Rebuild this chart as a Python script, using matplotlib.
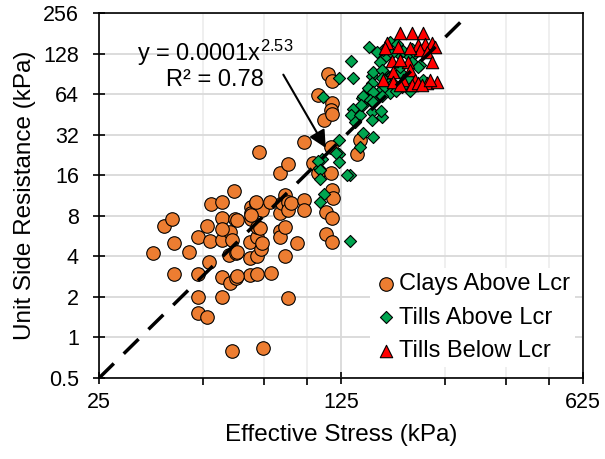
import matplotlib
matplotlib.use("Agg")
import matplotlib.pyplot as plt
from matplotlib.ticker import FixedLocator, NullFormatter
import numpy as np

plt.rcParams['font.family'] = ['Liberation Sans', 'DejaVu Sans']
plt.rcParams['mathtext.fontset'] = 'custom'
plt.rcParams['mathtext.rm'] = 'Liberation Sans'
plt.rcParams['mathtext.it'] = 'Liberation Sans'

# Clays above Lcr (effective stress kPa, unit side resistance kPa)
clay_x = [35.8, 38.4, 40.5, 41.1, 41.1, 45.4, 48.3, 48.3, 48.3, 48.3,
          51.4, 51.4, 52.3, 52.0, 52.7, 56.5, 56.5, 56.5, 56.8, 56.8,
          59.8, 56.8, 59.8, 62.0, 60.6, 61.3, 61.6, 59.5, 62.0, 60.6,
          68.6, 68.6, 68.6, 68.3, 68.3, 68.3, 71.6, 71.6, 71.6, 71.2,
          71.6, 72.6, 73.2, 73.9, 73.9, 74.3, 78.0, 78.3, 83.4, 83.4,
          83.4, 83.4, 84.4, 86.2, 86.2, 86.2, 87.6, 88.0, 88.0, 88.0,
          89.5, 93.4, 98.0, 98.0, 97.5, 104, 107, 113.3, 117.4, 113.3,
          117.4, 116.7, 117.4, 118.8, 107.4, 115, 117.4, 117.4, 116.7, 111.7,
          139, 142, 62.4, 73, 62.4, 70.8, 68.9, 62.4, 117.4, 117]
clay_y = [4.2, 6.75, 7.6, 5.0, 2.94, 4.3, 5.6, 2.94, 2.0, 1.52,
          1.42, 6.75, 5.2, 3.6, 9.75, 10.2, 7.7, 5.3, 2.8, 2.0,
          6.1, 6.4, 2.55, 2.77, 5.3, 12.2, 7.6, 4.1, 4.2, 0.79,
          9.3, 8.4, 7.6, 5.1, 3.87, 2.89, 4.0, 5.58, 6.6, 10.0,
          2.94, 23.9, 4.5, 8.8, 5.0, 0.84, 10.2, 3.0, 16.6, 8.4,
          6.2, 5.6, 10.0, 11.5, 6.6, 4.0, 19.5, 10.2, 8.9, 1.97,
          10.0, 5.0, 10.4, 8.9, 28.4, 19.6, 16.6, 8.5, 7.7, 5.9,
          5.1, 16.6, 12.4, 10.9, 63, 90, 80, 55, 49, 41,
          23, 29.4, 4.3, 6.5, 7.4, 10.2, 8.1, 2.85, 45.5, 25.8]

# Tills above Lcr
till_a_x = [151, 134, 123, 135, 154, 165, 111, 151, 144, 155,
            135, 145, 134, 142, 154, 137, 164, 154, 145, 155,
            142, 123, 123, 110, 108, 123, 133, 162, 167, 173,
            169, 184, 196, 201, 165, 173, 182, 185, 195, 211,
            216, 167, 177, 159, 162, 155, 164, 154, 164, 150,
            155, 145, 152, 143, 155, 164, 163, 176, 189, 201,
            205, 175, 185, 208, 187, 198, 180, 107, 109, 109,
            112, 109, 121, 130, 133]
till_a_y = [143, 112, 84, 84, 87, 95, 61, 70, 60, 58,
            50, 53, 45, 45, 47, 40, 43, 41, 33, 31,
            26, 29, 23, 21, 18, 20, 16, 68, 72, 65,
            122, 126, 122, 110, 137, 155, 150, 93, 84, 105,
            82, 82, 78, 132, 110, 93, 96, 77, 84, 71,
            66, 62, 58, 53, 56, 62, 48, 130, 133, 139,
            130, 89, 102, 102, 72, 68, 68, 20.5, 17.5, 15,
            11.7, 10.1, 23.5, 16, 5.2]

# Tills below Lcr
till_b_x = [185, 200, 216, 170, 183, 167, 209, 219, 229, 234,
            211, 222, 198, 175, 195, 229, 185, 177, 198, 165,
            177, 189, 204, 200, 209, 222, 237, 185, 214, 226]
till_b_y = [182, 182, 182, 153, 143, 141, 148, 150, 153, 143,
            136, 131, 141, 112, 110, 110, 115, 93, 97, 82,
            79, 82, 82, 75, 77, 77, 79, 75, 75, 82]

# power trendline, y = a x^b (shown as 0.0001x^2.53)
fit_a = 1.45e-4
fit_b = 2.53
fit_x = np.array([25, 292])

y_ticks = [0.5, 1, 2, 4, 8, 16, 32, 64, 128, 256]
y_labels = ['0.5', '1', '2', '4', '8', '16', '32', '64', '128', '256']
x_ticks = [25, 125, 625]
x_minor = [50, 75, 100, 250, 375, 500]

fig = plt.figure(figsize=(6.05, 4.59), dpi=100)
ax = fig.add_axes([0.1636, 0.1765, 0.80, 0.7952])

ax.set_xscale('log', base=5)
ax.set_yscale('log', base=2)
ax.set_xlim(25, 625)
ax.set_ylim(0.5, 256)

ax.scatter(clay_x, clay_y, s=95, marker='o', color='#ED7D31',
           edgecolors='black', linewidths=0.8, zorder=3, label='Clays Above Lcr')
ax.scatter(till_a_x, till_a_y, s=38, marker='D', color='#00A550',
           edgecolors='black', linewidths=0.8, zorder=3, label='Tills Above Lcr')
ax.scatter(till_b_x, till_b_y, s=80, marker='^', color='#FF0000',
           edgecolors='black', linewidths=0.8, zorder=3, label='Tills Below Lcr')

ax.plot(fit_x, fit_a * fit_x ** fit_b, color='black', lw=2.5,
        dashes=(6, 4), zorder=4, solid_capstyle='butt')

ax.text(54, 130, r'y = 0.0001x$^{\mathrm{2.53}}$', ha='center', va='center', fontsize=17)
ax.text(54, 82, 'R² = 0.78', ha='center', va='center', fontsize=17)
ax.annotate('', xy=(114, 24.5), xytext=(84.4, 93),
            arrowprops=dict(arrowstyle='-|>', color='black', lw=1.5,
                            mutation_scale=26), zorder=5)

ax.set_yticks(y_ticks)
ax.set_yticklabels(y_labels)
ax.yaxis.set_minor_locator(FixedLocator([]))
ax.set_xticks(x_ticks)
ax.set_xticklabels([str(v) for v in x_ticks])
ax.xaxis.set_minor_locator(FixedLocator(x_minor))
ax.xaxis.set_minor_formatter(NullFormatter())

ax.grid(True, which='major', color='#d9d9d9', lw=1.3, zorder=0)
ax.grid(True, which='minor', axis='x', color='#eeeeee', lw=1.3, zorder=0)
ax.set_axisbelow(True)

for sp in ax.spines.values():
    sp.set_linewidth(1.2)
    sp.set_color('black')

ax.tick_params(axis='both', which='major', direction='inout', length=8,
               width=1.2, labelsize=15.5, colors='black')
ax.tick_params(axis='y', which='major', pad=10.5)
ax.tick_params(axis='x', which='major', pad=6)
ax.tick_params(axis='x', which='minor', direction='out', length=5, width=1.2)

ax.set_xlabel('Effective Stress (kPa)', fontsize=17.5)
ax.set_ylabel('Unit Side Resistance (kPa)', fontsize=17.5)
ax.xaxis.set_label_coords(0.5, -0.125)
ax.yaxis.set_label_coords(-0.13, 0.5)

leg = ax.legend(loc='lower right', bbox_to_anchor=(0.983, 0.03), fontsize=17,
                frameon=True, edgecolor='none', framealpha=1, fancybox=False,
                handletextpad=0.05, labelspacing=0.5, borderaxespad=0,
                borderpad=0.2, handlelength=1.0)

fig.savefig('out.png', dpi=100)
